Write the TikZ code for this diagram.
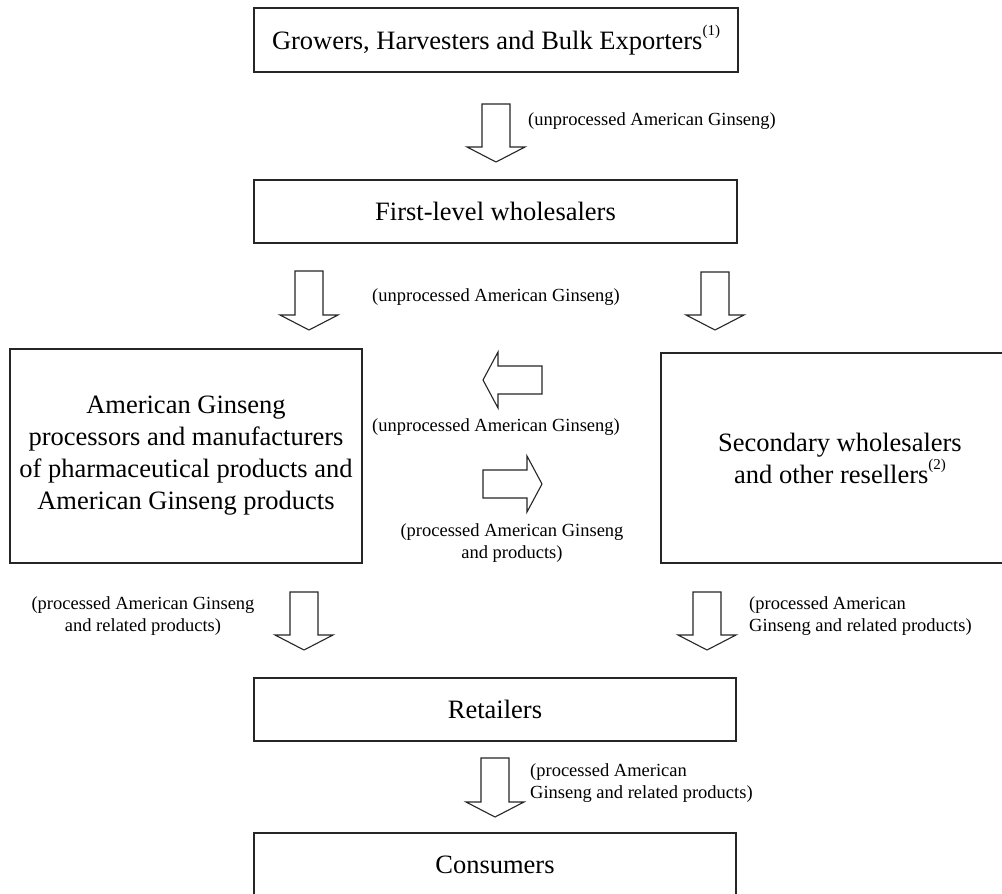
\documentclass[tikz,border=0pt]{standalone}
\usepackage{fontspec}
\setmainfont{Liberation Serif}
\usetikzlibrary{calc}

\tikzset{
  box/.style={draw=black!85, line width=1.2pt, inner sep=0pt, align=center,
              font=\fontsize{26.5}{32}\selectfont},
  note/.style={inner sep=0pt, font=\fontsize{18.5}{21.5}\selectfont},
  blockarrow/.style={draw=black!85, line width=1.1pt, fill=white, line join=miter}
}

% small raised footnote mark
\newcommand\fnmark[1]{\raisebox{0.5em}{\fontsize{15}{15}\selectfont(#1)}}

% hollow block arrows between two named coordinates (tail, tip)
\newcommand\flowdown[2]{%
  \draw[blockarrow] let \p1=(#1), \p2=(#2) in
    (\x1-14pt,\y1) -- (\x1+14pt,\y1) -- (\x1+14pt,\y2+15pt) -- (\x1+29pt,\y2+15pt)
    -- (\x2,\y2) -- (\x1-29pt,\y2+15pt) -- (\x1-14pt,\y2+15pt) -- cycle;}
\newcommand\flowleft[2]{%
  \draw[blockarrow] let \p1=(#1), \p2=(#2) in
    (\x1,\y1+14pt) -- (\x2+15pt,\y1+14pt) -- (\x2+15pt,\y1+28pt) -- (\x2,\y2)
    -- (\x2+15pt,\y1-28pt) -- (\x2+15pt,\y1-14pt) -- (\x1,\y1-14pt) -- cycle;}
\newcommand\flowright[2]{%
  \draw[blockarrow] let \p1=(#1), \p2=(#2) in
    (\x1,\y1+14pt) -- (\x2-15pt,\y1+14pt) -- (\x2-15pt,\y1+28pt) -- (\x2,\y2)
    -- (\x2-15pt,\y1-28pt) -- (\x2-15pt,\y1-14pt) -- (\x1,\y1-14pt) -- cycle;}

\begin{document}
\begin{tikzpicture}[x=1pt, y=-1pt]
  \clip (0,0) rectangle (1002,894);
  \fill[white] (0,0) rectangle (1002,894);

  % stages of the supply chain
  \node[box, minimum width=484pt, minimum height=64pt] (grow) at (496,40)
    {Growers, Harvesters and Bulk Exporters\fnmark{1}};
  \node[box, minimum width=483pt, minimum height=63pt] (first) at (495.5,211.5)
    {First-level wholesalers};
  \node[box, minimum width=352pt, minimum height=214pt] (proc) at (186,456)
    {American Ginseng\\processors and manufacturers\\of pharmaceutical products and\\American Ginseng products};
  \node[box, minimum width=358pt, minimum height=210pt] (second) at (840,458)
    {Secondary wholesalers\\and other resellers\fnmark{2}};
  \node[box, minimum width=482pt, minimum height=63pt] (retail) at (495,709.5)
    {Retailers};
  \node[box, minimum width=482pt, minimum height=63pt] (cons) at (495,864.5)
    {Consumers};

  % arrow end points
  \coordinate (a1s) at (496,104); \coordinate (a1e) at (496,162);
  \coordinate (a2s) at (309,271); \coordinate (a2e) at (309,330);
  \coordinate (a3s) at (715,272); \coordinate (a3e) at (715,330);
  \coordinate (a4s) at (542,380); \coordinate (a4e) at (483,380);
  \coordinate (a5s) at (483,484); \coordinate (a5e) at (542,484);
  \coordinate (a6s) at (304,592); \coordinate (a6e) at (304,650);
  \coordinate (a7s) at (707,592); \coordinate (a7e) at (707,650);
  \coordinate (a8s) at (495,758); \coordinate (a8e) at (495,817);

  \flowdown{a1s}{a1e}
  \flowdown{a2s}{a2e}
  \flowdown{a3s}{a3e}
  \flowleft{a4s}{a4e}
  \flowright{a5s}{a5e}
  \flowdown{a6s}{a6e}
  \flowdown{a7s}{a7e}
  \flowdown{a8s}{a8e}

  % flow labels
  \node[note, anchor=west] (l1) at (528,121) {(unprocessed American Ginseng)};
  \node[note] (l2) at (496,297) {(unprocessed American Ginseng)};
  \node[note] (l3) at (496,427) {(unprocessed American Ginseng)};
  \node[note, align=center] (l4) at (512,543) {(processed American Ginseng\\and products)};
  \node[note, align=center] (l5) at (143,616) {(processed American Ginseng\\and related products)};
  \node[note, align=left, anchor=west] (l6) at (749,616) {(processed American\\Ginseng and related products)};
  \node[note, align=left, anchor=west] (l7) at (530,783) {(processed American\\Ginseng and related products)};
\end{tikzpicture}
\end{document}
